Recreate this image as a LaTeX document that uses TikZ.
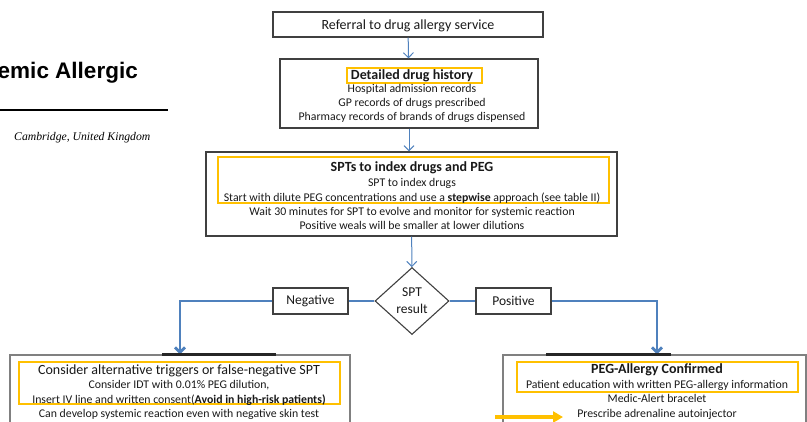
\documentclass[tikz,border=0pt]{standalone}
\usepackage{fontspec}
\setmainfont{Carlito}
\newfontfamily\headfont{Liberation Sans}
\newfontfamily\affilfont{Liberation Serif}
\usepackage{xcolor}
\usetikzlibrary{arrows.meta,positioning,shapes.geometric}
\definecolor{flowblue}{HTML}{4F81BD}
\definecolor{gold}{HTML}{FFC000}
\definecolor{boxgray}{HTML}{404040}
\definecolor{litegray}{HTML}{808080}

\begin{document}
\begin{tikzpicture}[x=1pt, y=-1pt,
  outer/.style={draw=boxgray, line width=1.3pt, inner sep=0pt},
  lower/.style={draw=litegray, line width=1.3pt, inner sep=0pt},
  yel/.style={draw=gold, line width=1.2pt, inner sep=0pt},
  hd/.style={font=\fontsize{14}{16}\selectfont\bfseries, anchor=base, inner sep=0pt, text=black!90},
  big/.style={font=\fontsize{14}{16}\selectfont, anchor=base, inner sep=0pt, text=black!90},
  body/.style={font=\fontsize{11.8}{14.2}\selectfont, align=center, anchor=base, inner sep=0pt, text=black!90},
  res/.style={draw=boxgray, line width=1.1pt, minimum width=75pt, minimum height=26pt, inner sep=0pt, font=\fontsize{13.5}{16}\selectfont, text=black!90},
  arr/.style={-{Straight Barb[length=5pt,width=10pt]}, flowblue, line width=1pt},
  fat/.style={flowblue, line width=2.8pt},
  fatarr/.style={fat, -{Straight Barb[length=5pt,width=10pt]}},
  topbar/.style={black!85, line width=2.6pt},
  goldarr/.style={-{Triangle[length=10pt,width=11pt]}, gold, line width=3.2pt}
]
\clip (0,0) rectangle (807,421);
% --- page fragments ---
\node[font=\headfont\bfseries\fontsize{22.5}{26}\selectfont, anchor=base east, inner sep=0pt] (title) at (138,78) {emic Allergic};
\coordinate (ruleL) at (0,110);
\coordinate (ruleR) at (168,110);
\draw[line width=1.8pt] (ruleL) -- (ruleR);
\node[font=\affilfont\itshape\fontsize{11.7}{14}\selectfont, anchor=base west, inner sep=0pt] (affil) at (14,140) {Cambridge, United Kingdom};
% --- referral and history ---
\node[outer, minimum width=270pt, minimum height=25pt] (ref) at (408,24.5) {};
\node[big] (reftxt) at (408,29.5) {Referral to drug allergy service};
\node[outer, minimum width=258pt, minimum height=69pt] (hist) at (409,93.5) {};
\node[yel, minimum width=135pt, minimum height=15pt] (histy) at (414.5,75.5) {};
\node[hd] (histhd) at (412,79.5) {Detailed drug history};
\node[body] (histtxt) at (412,120.5) {Hospital admission records\\GP records of drugs prescribed\\Pharmacy records of brands of drugs dispensed};
% --- skin prick tests ---
\node[outer, minimum width=411pt, minimum height=84pt] (spt) at (411.5,194) {};
\node[yel, minimum width=391pt, minimum height=46pt] (spty) at (413.5,180) {};
\node[hd] (spthd) at (412,171.5) {SPTs to index drugs and PEG};
\node[body] (spttxt) at (412,229.5) {SPT to index drugs\\Start with dilute PEG concentrations and use a \textbf{stepwise} approach (see table II)\\Wait 30 minutes for SPT to evolve and monitor for systemic reaction\\Positive weals will be smaller at lower dilutions};
% --- decision ---
\node[diamond, draw=boxgray, line width=1.1pt, minimum width=74pt, minimum height=67pt, inner sep=0pt, align=center, font=\fontsize{13.5}{17}\selectfont, text=black!90] (dec) at (412,301) {SPT\\result};
\node[res] (neg) at (310.5,301) {Negative};
\node[res] (pos) at (513.5,301) {Positive};
% --- outcomes ---
\node[lower, minimum width=340pt, minimum height=90pt] (cons) at (180,400) {};
\node[yel, minimum width=321pt, minimum height=42pt] (consy) at (179.5,383) {};
\node[big] (conshd) at (179,374.5) {Consider alternative triggers or false-negative SPT};
\node[body] (constxt) at (179,417.2) {Consider IDT with 0.01\% PEG dilution,\\Insert IV line and written consent(\textbf{Avoid in high-risk patients)}\\Can develop systemic reaction even with negative skin test};
\node[lower, minimum width=303pt, minimum height=90pt] (conf) at (654.5,400) {};
\node[yel, minimum width=281pt, minimum height=30pt] (confy) at (657.5,377) {};
\node[hd] (confhd) at (657,373.5) {PEG-Allergy Confirmed};
\node[body] (conftxt) at (657,417) {Patient education with written PEG-allergy information\\Medic-Alert bracelet\\Prescribe adrenaline autoinjector};
% --- flow ---
\draw[arr] (ref) -- (hist);
\draw[arr] (hist) -- (spt.north -| hist.south);
\draw[arr] (spt) -- (dec);
\draw[fat] (dec.west) -- (neg.east);
\draw[fat] (dec.east) -- (pos.west);
\draw[fatarr] (neg.west) -| (cons.north);
\draw[fatarr] (pos.east) -| ([xshift=2.5pt]conf.north);
\draw[topbar] ([xshift=153pt]cons.north west) -- ([xshift=267pt]cons.north west);
\draw[topbar] ([xshift=44pt]conf.north west) -- ([xshift=169pt]conf.north west);
\coordinate (goldA) at (495,417);
\coordinate (goldB) at (563,417);
\draw[goldarr] (goldA) -- (goldB);
\end{tikzpicture}
\end{document}
